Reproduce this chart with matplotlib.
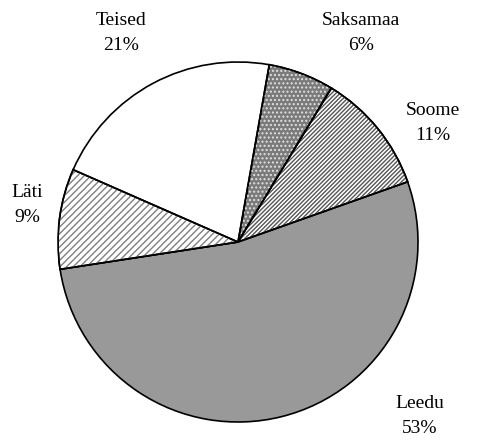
import matplotlib.pyplot as plt
from matplotlib.patches import Wedge

# data (share of total, %)
labels = ['Saksamaa', 'Soome', 'Leedu', 'Läti', 'Teised']
values = [5.9, 10.9, 53.0, 9.0, 21.2]
shown = ['6%', '11%', '53%', '9%', '21%']

face = ['#7a7a7a', 'white', '#999999', 'white', 'white']
hatches = ['....', '////////', None, '/////', None]
hatch_col = ['#e0e0e0', '#555555', None, '#808080', None]

plt.rcParams['hatch.linewidth'] = 1.0
plt.rcParams['font.family'] = ['Liberation Serif', 'DejaVu Serif']

W, H = 480, 443
fig = plt.figure(figsize=(W / 100, H / 100), dpi=100)
ax = fig.add_axes([58 / W, (H - 422) / H, 360 / W, 360 / H])

wedges, _ = ax.pie(values, startangle=80, counterclock=False,
                   colors=face, radius=1,
                   wedgeprops=dict(edgecolor='black', linewidth=1.2))

# hatching drawn as overlay so the outline stays black
for w, h, hc in zip(wedges, hatches, hatch_col):
    if h is None:
        continue
    ov = Wedge(w.center, w.r, w.theta1, w.theta2, fill=False,
               hatch=h, edgecolor=hc, linewidth=0, zorder=w.get_zorder() + 0.1)
    ax.add_patch(ov)
    # redraw outline on top
    ol = Wedge(w.center, w.r, w.theta1, w.theta2, fill=False,
               edgecolor='black', linewidth=1.2, zorder=w.get_zorder() + 0.2)
    ax.add_patch(ol)

ax.set_xlim(-1, 1)
ax.set_ylim(-1, 1)
ax.set_aspect('equal')
ax.axis('off')

# label block centres in pixels
pos = [(361, 33), (433, 123), (420, 416), (27, 205), (121, 33)]
for lab, s, (x, y) in zip(labels, shown, pos):
    fig.text(x / W, 1 - y / H, lab + '\n' + s, ha='center', va='center',
             fontsize=14, linespacing=1.6)

fig.savefig('out.png', dpi=100)
